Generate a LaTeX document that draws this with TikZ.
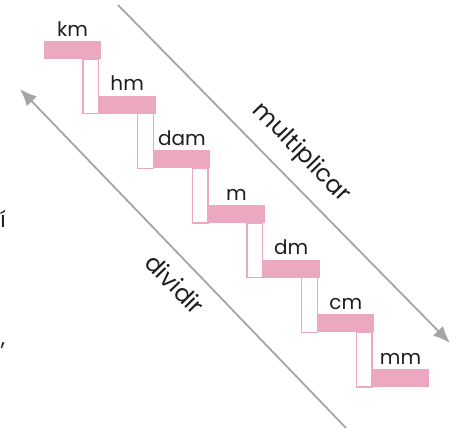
\documentclass[tikz,border=0pt]{standalone}
\usepackage{fontspec}
\setmainfont{Poppins}
\usetikzlibrary{arrows.meta}
\definecolor{stairpink}{HTML}{EBA8C0}
\definecolor{arrowgray}{HTML}{A5A5A7}
\definecolor{txt}{HTML}{1E1E1E}
\begin{document}
\begin{tikzpicture}[x=1pt,y=-1pt,
  bar/.style={rectangle,fill=stairpink,draw=none,minimum width=57pt,minimum height=18pt,inner sep=0pt,outer sep=0pt},
  riser/.style={draw=stairpink,line width=1.5pt,fill=white},
  unit/.style={anchor=base,font=\fontsize{20}{20}\selectfont,text=txt,inner sep=0pt},
  arr/.style={draw=arrowgray,line width=1.8pt,-{Latex[length=17pt,width=14pt]}},
  side/.style={font=\fontsize{24}{24}\selectfont,text=txt,inner sep=0pt,rotate=-45.8}]
\useasboundingbox (0,0) rectangle (461,429);
% risers
\foreach \i in {0,...,5}{
  \pgfmathsetmacro{\xa}{44+54.67*\i+57-18}
  \pgfmathsetmacro{\ya}{41+54.67*\i+18}
  \pgfmathsetmacro{\xb}{44+54.67*(\i+1)}
  \pgfmathsetmacro{\yb}{41+54.67*(\i+1)+18}
  \draw[riser] (\xa,\ya) rectangle (\xb,\yb);
}
% bars
\node[bar] (b0) at (72.5,50) {};
\node[bar] (b1) at (127.17,104.67) {};
\node[bar] (b2) at (181.84,159.34) {};
\node[bar] (b3) at (236.51,214.01) {};
\node[bar] (b4) at (291.18,268.68) {};
\node[bar] (b5) at (345.85,323.35) {};
\node[bar] (b6) at (400.52,378.02) {};
% labels
\node[unit] (lkm) at ([yshift=5pt]b0.north) {km};
\node[unit] (lhm) at ([yshift=5pt]b1.north) {hm};
\node[unit] (ldam) at ([yshift=5pt]b2.north) {dam};
\node[unit] (lm) at ([yshift=5pt]b3.north) {m};
\node[unit] (ldm) at ([yshift=5pt]b4.north) {dm};
\node[unit] (lcm) at ([yshift=5pt]b5.north) {cm};
\node[unit] (lmm) at ([yshift=5pt]b6.north) {mm};
% arrows
\coordinate (m1) at (118,5);
\coordinate (m2) at (450,343);
\coordinate (d1) at (346,428);
\coordinate (d2) at (20,89);
\draw[arr] (m1) -- (m2);
\draw[arr] (d1) -- (d2);
\node[side] (tmul) at (301,153) {multiplicar};
\node[side] (tdiv) at (175,284) {dividir};
% clipped fragments at left edge
\node[font=\fontsize{22}{22}\selectfont,text=txt,inner sep=0pt,anchor=base] (fri) at (3,227) {í};
\node[font=\fontsize{22}{22}\selectfont,text=txt,inner sep=0pt,anchor=base] (frc) at (3,345) {,};
\end{tikzpicture}
\end{document}
